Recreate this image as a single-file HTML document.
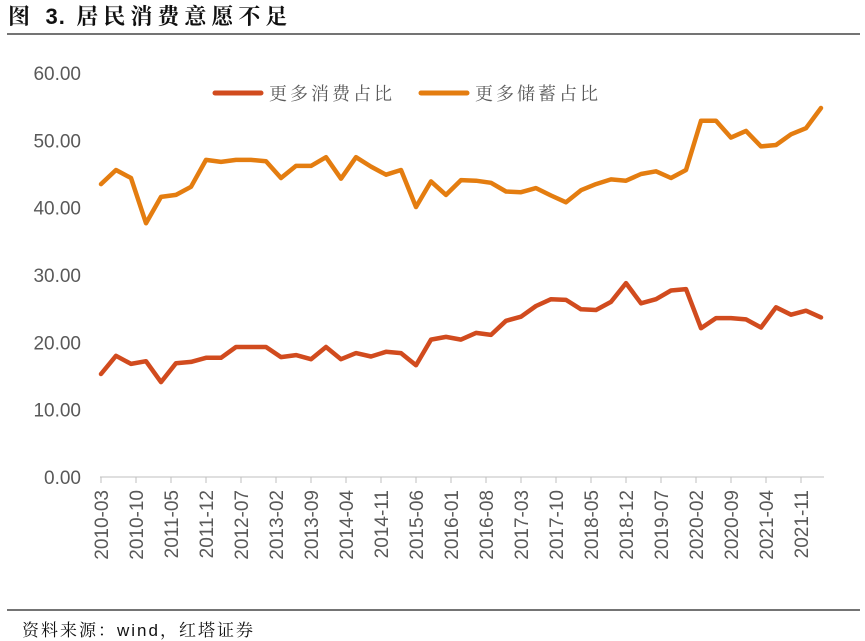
<!DOCTYPE html>
<html><head><meta charset="utf-8"><style>
body{margin:0;background:#fff;width:865px;height:641px;overflow:hidden}
svg{display:block}
</style></head><body>
<svg width="865" height="641" xmlns="http://www.w3.org/2000/svg">
<text x="8" y="24" font-family="'Liberation Serif','Noto Serif CJK SC',serif" font-size="22" font-weight="bold" letter-spacing="5" fill="#111">图 <tspan font-family="'Liberation Sans',sans-serif" letter-spacing="1">3.</tspan> 居民消费意愿不足</text>
<line x1="7" y1="34" x2="860" y2="34" stroke="#222" stroke-width="1.2"/>
<line x1="7" y1="610" x2="860" y2="610" stroke="#222" stroke-width="1.2"/>
<text x="22" y="636" font-family="'Liberation Sans','Noto Serif CJK SC',serif" font-size="17" letter-spacing="2" fill="#111">资料来源：wind，红塔证券</text>
<g id="yaxis"></g>
<g id="xaxis"></g>
<g id="series"></g>
<g>
<line x1="215" y1="93" x2="261" y2="93" stroke="#d14b1e" stroke-width="5" stroke-linecap="round"/>
<text x="269" y="100" font-family="'Noto Serif CJK SC',serif" font-size="18" letter-spacing="3" fill="#595959">更多消费占比</text>
<line x1="421" y1="93" x2="467" y2="93" stroke="#e47d10" stroke-width="5" stroke-linecap="round"/>
<text x="475" y="100" font-family="'Noto Serif CJK SC',serif" font-size="18" letter-spacing="3" fill="#595959">更多储蓄占比</text>
</g>
</svg>
<script>
const yTicks=[0,10,20,30,40,50,60];
const xLabels=["2010-03","2010-10","2011-05","2011-12","2012-07","2013-02","2013-09","2014-04","2014-11","2015-06","2016-01","2016-08","2017-03","2017-10","2018-05","2018-12","2019-07","2020-02","2020-09","2021-04","2021-11"];
const consume=[15.3,18.0,16.8,17.2,14.1,16.9,17.1,17.7,17.7,19.3,19.3,19.3,17.8,18.1,17.5,19.3,17.5,18.4,17.9,18.6,18.4,16.6,20.4,20.8,20.4,21.4,21.1,23.2,23.8,25.4,26.4,26.3,24.9,24.8,26.0,28.8,25.8,26.4,27.7,27.9,22.1,23.6,23.6,23.4,22.2,25.2,24.1,24.7,23.7];
const save=[43.5,45.6,44.4,37.7,41.6,41.9,43.1,47.1,46.8,47.1,47.1,46.9,44.4,46.2,46.2,47.5,44.3,47.5,46.1,44.9,45.6,40.1,43.9,41.9,44.1,44.0,43.7,42.4,42.3,42.9,41.8,40.8,42.6,43.5,44.2,44.0,45.0,45.4,44.4,45.6,52.9,52.9,50.4,51.4,49.1,49.3,50.9,51.8,54.8];
const NS='http://www.w3.org/2000/svg';
const x0=101, pxPerMonth=5;
const y=v=>477-v*(404/60);
const xq=i=>x0+i*3*pxPerMonth;
const xm=i=>x0+i*7*pxPerMonth;
const ya=document.getElementById('yaxis');
yTicks.forEach(v=>{const t=document.createElementNS(NS,'text');


t.setAttribute('x',81);t.setAttribute('y',y(v)+7);t.setAttribute('text-anchor','end');
t.setAttribute('font-family','Liberation Sans, sans-serif');t.setAttribute('font-size','19');t.setAttribute('fill','#595959');
t.textContent=v.toFixed(2);ya.appendChild(t);});
const xa=document.getElementById('xaxis');
const al=document.createElementNS(NS,'line');


al.setAttribute('x1',100);al.setAttribute('x2',824);al.setAttribute('y1',477);al.setAttribute('y2',477);al.setAttribute('stroke','#bfbfbf');al.setAttribute('stroke-width','1');xa.appendChild(al);
xLabels.forEach((s,i)=>{const x=xm(i);
const tk=document.createElementNS(NS,'line');


tk.setAttribute('x1',x);tk.setAttribute('x2',x);tk.setAttribute('y1',477);tk.setAttribute('y2',483);tk.setAttribute('stroke','#bfbfbf');xa.appendChild(tk);
const t=document.createElementNS(NS,'text');


t.setAttribute('transform','translate('+(x+7)+',490) rotate(-90)');t.setAttribute('text-anchor','end');
t.setAttribute('font-family','Liberation Sans, sans-serif');t.setAttribute('font-size','19');t.setAttribute('fill','#595959');
t.textContent=s;xa.appendChild(t);});
const sg=document.getElementById('series');
[[consume,'#d14b1e','line-consume'],[save,'#e47d10','line-save']].forEach(([d,c,n])=>{
const p=document.createElementNS(NS,'polyline');


p.setAttribute('points',d.map((v,i)=>xq(i)+','+y(v).toFixed(1)).join(' '));
p.setAttribute('fill','none');p.setAttribute('stroke',c);p.setAttribute('stroke-width','4.5');p.setAttribute('stroke-linejoin','round');p.setAttribute('stroke-linecap','round');
sg.appendChild(p);});
</script>
</body></html>
